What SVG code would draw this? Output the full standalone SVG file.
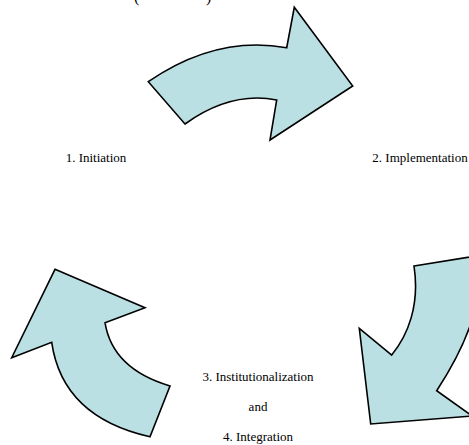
<svg xmlns="http://www.w3.org/2000/svg" width="469" height="445" viewBox="0 0 469 445">
<style>
.arrow{fill:#BBE0E3;stroke:#000;stroke-width:1.6;stroke-linejoin:miter}
.lbl{font-family:"Liberation Serif","Times New Roman",serif;font-size:13px;fill:#000;text-anchor:middle}
.par{font-family:"Liberation Serif","Times New Roman",serif;font-size:16px;fill:#000}
</style>
<rect width="469" height="445" fill="#fff"/>
<g id="title">
<text class="par" x="134" y="2">(</text>
<text class="par" x="206" y="2">)</text>
</g>
<g id="connectors">
<path id="arrow-top" class="arrow" d="M148.3,81.7 Q216,35 286.7,47.7 L294.3,7.3 L352.7,86 L270,140 L276.7,100 Q231,91 185,124 Z"/>
<path id="arrow-right" class="arrow" d="M414,266 L482,255 C482,300 470,340 436.7,390.7 L472,416 L370.7,424 L359.3,328.3 L391.7,355 C408,335 420,305 414,266 Z"/>
<path id="arrow-left" class="arrow" d="M55,269.3 L145,307.7 L105,322.7 Q112.5,369 170,386 L150,436.7 Q62.5,417 51.7,342.3 L11.7,357.7 Z"/>
</g>
<g id="node-initiation"><text class="lbl" x="96" y="162">1. Initiation</text></g>
<g id="node-implementation"><text class="lbl" x="420" y="162">2. Implementation</text></g>
<g id="node-institutionalization">
<text class="lbl" x="258" y="381">3. Institutionalization</text>
<text class="lbl" x="258" y="411">and</text>
<text class="lbl" x="258" y="441">4. Integration</text>
</g>
</svg>
